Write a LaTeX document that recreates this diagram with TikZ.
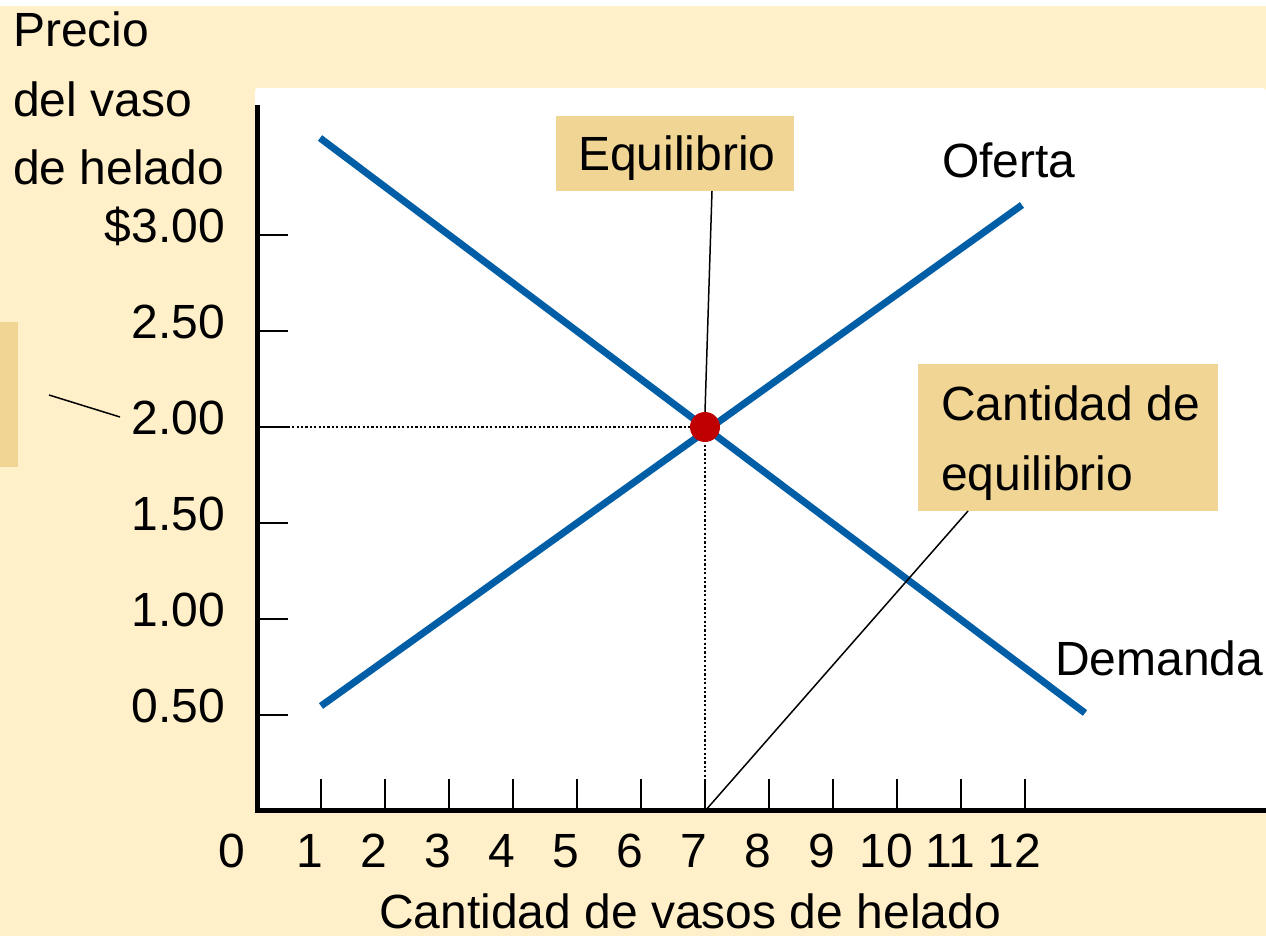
\documentclass[tikz,border=0pt]{standalone}
\usepackage{fontspec}
\setmainfont{Liberation Sans}
\definecolor{cream}{RGB}{255,240,202}
\definecolor{boxc}{RGB}{240,213,149}
\definecolor{curveblue}{RGB}{0,94,166}
\definecolor{dotred}{RGB}{192,0,0}
\tikzset{
  lbl/.style={inner sep=0pt, font=\fontsize{48}{70}\selectfont},
  curve/.style={line width=7pt, color=curveblue},
  axisline/.style={line width=5pt, black},
  tickline/.style={line width=1.8pt, black},
  guide/.style={line width=2.2pt, black, dash pattern=on 2.2pt off 2.2pt},
  leader/.style={line width=1.5pt, black},
  callout/.style={fill=boxc, inner sep=0pt, anchor=north west},
}
\begin{document}
\begin{tikzpicture}[x=1pt, y=-1pt]
\useasboundingbox (0,0) rectangle (1266,936);
% backgrounds
\fill[white] (0,0) rectangle (1266,6);
\fill[cream] (0,6) rectangle (1266,936);
\fill[white, rounded corners=3pt] (255,88) rectangle (1266,811);
\fill[boxc] (0,322) rectangle (18,467);
\draw[leader] (49,395) -- (120,417);
% axis title
\node[lbl, anchor=base west] (t1) at (13,47) {Precio};
\node[lbl, anchor=base west] (t2) at (13,117) {del vaso};
\node[lbl, anchor=base west] (t3) at (13,185) {de helado};
% y ticks and labels
\foreach \p/\t/\n in {3/{\$3.00}/a, 2.5/2.50/b, 2/2.00/c, 1.5/1.50/d, 1/1.00/e, 0.5/0.50/f}{
  \coordinate (yt\n) at (257,{811-192*\p});
  \draw[tickline] (yt\n) -- ++(31,0);
  \node[lbl, anchor=base east] (yl\n) at (225,{811-192*\p+7}) {\t};
}
% x ticks and labels
\node[lbl, anchor=base] (xl0) at (232,867) {0};
\foreach \k in {1,...,12}{
  \coordinate (xt\k) at ({257+64*\k},811);
  \draw[tickline] (xt\k) -- ++(0,-32);
  \node[lbl, anchor=base] (xl\k) at ({246+64*\k},867) {\k};
}
\node[lbl, anchor=base] (xtitle) at (690,928) {Cantidad de vasos de helado};
% dotted guides
\coordinate (p2) at (257,427);
\coordinate (q7) at (705,811);
\coordinate (E) at (705,427);
\draw[guide] (p2) -- (E);
\draw[guide] (E) -- (q7);
% curves
\coordinate (d1) at (320,138);
\coordinate (d2) at (1085,713);
\coordinate (s1) at (321,706);
\coordinate (s2) at (1022,205);
\draw[curve] (d1) -- (d2);
\draw[curve] (s1) -- (s2);
% axes
\draw[axisline] (257.5,105) -- (257.5,813);
\draw[axisline] (255,810.5) -- (1266,810.5);
% equilibrium point
\node[circle, fill=dotred, minimum size=30pt, inner sep=0pt] (eq) at (E) {};
% callouts
\node[callout, minimum width=238pt, minimum height=75pt] (eqbox) at (556,116) {};
\node[lbl, anchor=base west] (eqtxt) at (578,171) {Equilibrio};
\coordinate (eqfoot) at (712,191);
\draw[leader] (eqfoot) -- (eq.north);
\node[callout, minimum width=300pt, minimum height=147pt] (cbox) at (918,364) {};
\node[lbl, anchor=base west] (c1) at (941,420) {Cantidad de};
\node[lbl, anchor=base west] (c2) at (941,490) {equilibrio};
\coordinate (cfoot) at (968,511);
\draw[leader] (cfoot) -- (q7);
% curve labels
\node[lbl, anchor=base west] (of) at (942,178) {Oferta};
\node[lbl, anchor=base west] (de) at (1055,675) {Demanda};
\end{tikzpicture}
\end{document}
